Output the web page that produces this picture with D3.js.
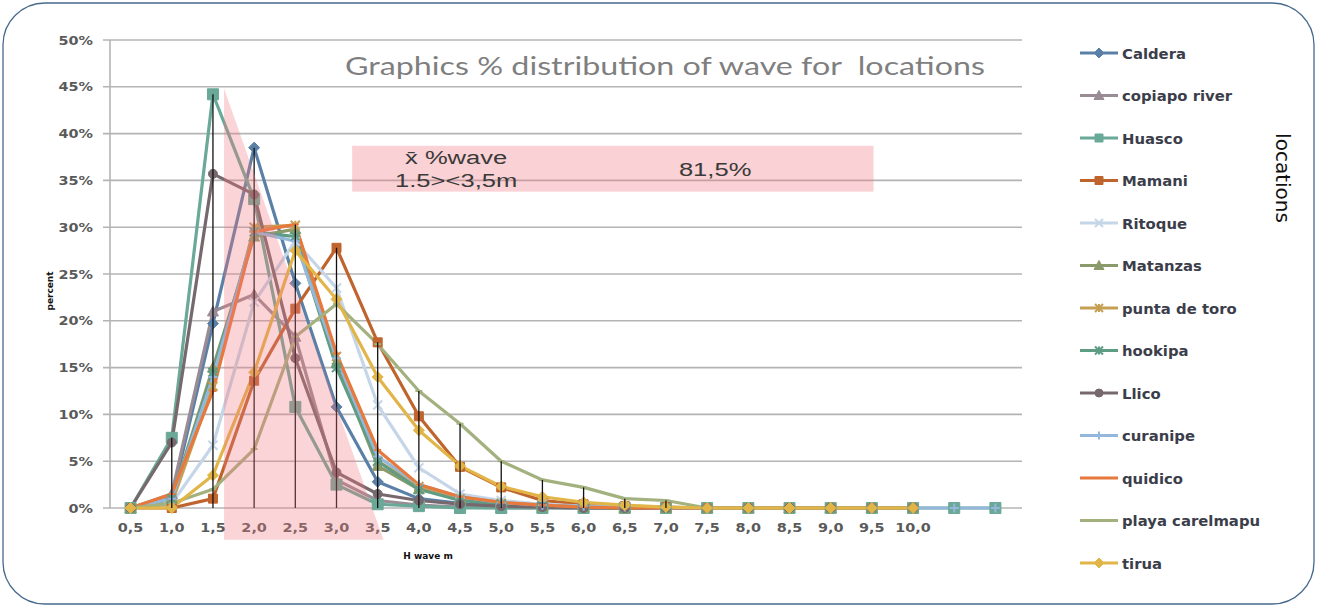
<!DOCTYPE html>
<html><head><meta charset="utf-8">
<script src="https://cdn.jsdelivr.net/npm/d3@7"></script>
<style>body{margin:0;background:#fff}svg{display:block}</style>
</head><body><svg id="c" width="1317" height="606"></svg>
<script>
// ---------- data ----------
const categories = ["0,5","1,0","1,5","2,0","2,5","3,0","3,5","4,0","4,5","5,0","5,5","6,0","6,5","7,0","7,5","8,0","8,5","9,0","9,5","10,0","",""];
const yTicks = [0,5,10,15,20,25,30,35,40,45,50];
const seriesNames = ["Caldera","copiapo river","Huasco","Mamani","Ritoque","Matanzas","punta de toro","hookipa","Llico","curanipe","quidico","playa carelmapu","tirua"];
const caldera        = [0,1,19.7,38.5,24,10.8,2.8,1,0.5,0.2,0.1,0,0,0,0,0,0,0,0,0];
const copiapoRiver   = [0,1.5,21,22.8,18.3,3,0.8,0.3,0.1,0,0,0,0,0,0,0,0,0,0,0];
const huasco         = [0,7.5,44.2,33,10.8,2.5,0.4,0.2,0,0,0,0,0,0,0,0,0,0,0,0,0,0];
const mamani         = [0,0,1,13.6,21.3,27.8,17.7,9.8,4.4,2.2,0.8,0.4,0.2,0.1,0,0,0,0,0,0];
const ritoque        = [0,0.5,6.7,22,28.5,23.5,11,4.3,1.5,0.8,0.4,0.2,0.1,0,0,0,0,0,0,0];
const matanzas       = [0,1,15,29,29.8,15.5,4.5,2,1,0.5,0.2,0.1,0,0,0,0,0,0,0,0];
const puntaDeToro    = [0,0.5,13,30,30.2,16.2,5,2.3,1,0.5,0.3,0.1,0,0,0,0,0,0,0,0];
const hookipa        = [0,1,14.5,29.5,29,15,5,2,0.8,0.4,0.2,0.1,0,0,0,0,0,0,0,0];
const llico          = [0,7,35.7,33.5,16,3.8,1.5,0.8,0.4,0.2,0.1,0,0,0,0,0,0,0,0,0];
const curanipe       = [0,1,14,29.5,28.5,16,5.5,2.5,1.2,0.6,0.3,0.2,0.1,0,0,0,0,0,0,0,0,0];
const quidico        = [0,1.5,12.5,29.5,30.3,16.5,6.2,2.5,1.2,0.6,0.3,0.1,0,0,0,0,0,0,0,0];
const playaCarelmapu = [0,0.5,2,6.3,18.3,21.8,17.5,12.5,9,5,3,2.2,1,0.8,0,0,0,0,0,0];
const tirua          = [0,0,3.5,14.5,27.5,22.3,14,8.3,4.5,2.3,1.2,0.6,0.3,0.1,0,0,0,0,0,0];
const seriesValues = [caldera,copiapoRiver,huasco,mamani,ritoque,matanzas,puntaDeToro,hookipa,llico,curanipe,quidico,playaCarelmapu,tirua];
const seriesColors = ["#5a80a8","#9a8c94","#6aa898","#c0642e","#c5d6e8","#8b9a6a","#c6a052","#5e9c84","#76686c","#94b8dc","#e8793c","#a3b17f","#e2b548"];
const seriesMarkers = ["diamond","triangle","square","square","x","triangle","star","asterisk","circle","plus","dash","dash","diamond"];
// annotation (in metres / percent)
const shadeTriangle = [[1.635,44.8],[1.635,-3.4],[3.57,-3.4]];
const shadeBox = {m0:3.19, m1:9.52, p0:33.8, p1:38.7};
const boxLines = ["x\u0304 %wave","1.5><3,5m"];
const boxValue = "81,5%";
const title = "Graphics % distribution of wave for  locations";

// ---------- layout ----------
const svg = d3.select("#c");
const L=110, R=1016, T=40, B=508;
const x = d3.scaleBand().domain(d3.range(categories.length)).range([L,R]).padding(0);
const cx = i => x(i) + x.bandwidth()/2;
const xm = m => cx(0) + (m-0.5)/0.5*x.bandwidth();   // metres -> px
const y = d3.scaleLinear().domain([0,50]).range([B,T]);

function stretch(sel, f){ sel.each(function(){ const w=this.getComputedTextLength(); d3.select(this).attr("textLength", w*f).attr("lengthAdjust","spacingAndGlyphs"); }); }

// border
svg.append("rect").attr("x",3).attr("y",3).attr("width",1311).attr("height",601).attr("rx",42).attr("ry",42)
  .attr("fill","none").attr("stroke","#46698c").attr("stroke-width",1.3);

// gridlines
svg.append("g").selectAll("line").data(yTicks).join("line")
  .attr("x1",L-7).attr("x2",1022).attr("y1",d=>y(d)).attr("y2",d=>y(d))
  .attr("stroke","#b4b4b4").attr("stroke-width",1.6);
svg.append("line").attr("x1",L).attr("x2",L).attr("y1",T).attr("y2",B).attr("stroke","#b4b4b4").attr("stroke-width",1.6);

// y labels
const yl = svg.append("g").selectAll("text").data(yTicks).join("text")
  .attr("x",93).attr("y",d=>y(d)+4.5).attr("text-anchor","end")
  .attr("font-family","DejaVu Sans").attr("font-size",12).attr("font-weight","bold").attr("fill","#5a5a5a")
  .text(d=>d+"%");
stretch(yl,1.2);
// x labels
const xl = svg.append("g").selectAll("text").data(categories).join("text")
  .attr("x",(d,i)=>cx(i)).attr("y",532).attr("text-anchor","middle")
  .attr("font-family","DejaVu Sans").attr("font-size",12).attr("font-weight","bold").attr("fill","#5a5a5a")
  .text(d=>d);
xl.filter(d=>d!=="").call(stretch,1.2);

// axis titles
svg.append("text").attr("transform",`translate(53,${291}) rotate(-90)`).attr("text-anchor","middle")
  .attr("font-family","DejaVu Sans").attr("font-size",9).attr("font-weight","bold").attr("fill","#111").text("percent");
svg.append("text").attr("x",428).attr("y",559).attr("text-anchor","middle")
  .attr("font-family","DejaVu Sans").attr("font-size",9).attr("font-weight","bold").attr("fill","#111").text("H wave m");

// title
const tt = svg.append("text").attr("x",665).attr("y",75).attr("text-anchor","middle")
  .attr("font-family","Lato").attr("font-size",25).attr("fill","#7f7f7f").style("white-space","pre").text(title);
stretch(tt,1.29);

// markers
function markerPath(type, s){
  const h=s/2;
  switch(type){
    case "diamond": return `M0,${-h-1}L${h+1},0L0,${h+1}L${-h-1},0Z`;
    case "triangle": return `M0,${-h-1}L${h+1},${h}L${-h-1},${h}Z`;
    case "square": return `M${-h},${-h}h${s}v${s}h${-s}Z`;
    case "circle": return `M${h},0A${h},${h} 0 1,1 ${-h},0A${h},${h} 0 1,1 ${h},0Z`;
    case "x": return `M${-h},${-h}L${h},${h}M${-h},${h}L${h},${-h}`;
    case "plus": return `M${-h},0H${h}M0,${-h}V${h}`;
    case "star": return `M${-h},${-h}L${h},${h}M${-h},${h}L${h},${-h}M0,${-h}V${h}`;
    case "asterisk": return `M${-h},${-h}L${h},${h}M${-h},${h}L${h},${-h}M0,${-h}V${h}M${-h},0H${h}`;
    case "dash": return `M${-h+1},0H${h-1}`;
    default: return "";
  }
}
const filled = t => ["diamond","triangle","square","circle"].includes(t);

// series
const line = d3.line().x((d,i)=>cx(i)).y(d=>y(d));
const sg = svg.append("g");
seriesValues.forEach((vals,k)=>{
  sg.append("path").datum(vals).attr("d",line).attr("fill","none")
    .attr("stroke",seriesColors[k]).attr("stroke-width",3.2).attr("stroke-linejoin","round");
});
seriesValues.forEach((vals,k)=>{
  const t=seriesMarkers[k];
  const sz = (t==="square" && k===2) ? 11 : 9;
  sg.append("g").selectAll("path").data(vals).join("path")
    .attr("transform",(d,i)=>`translate(${cx(i)},${y(d)})`)
    .attr("d",markerPath(t,sz))
    .attr("fill",filled(t)?seriesColors[k]:"none")
    .attr("stroke",seriesColors[k]).attr("stroke-width",filled(t)?1:2);
});

// drop lines (max of all series down to axis)
const nCat = d3.max(seriesValues, v=>v.length);
const maxes = d3.range(nCat).map(i=>d3.max(seriesValues, v=> v[i]===undefined? -1 : v[i]));
svg.append("g").selectAll("line").data(maxes.map((m,i)=>({m,i})).filter(d=>d.m>0)).join("line")
  .attr("x1",d=>cx(d.i)).attr("x2",d=>cx(d.i)).attr("y1",d=>y(d.m)).attr("y2",y(0))
  .attr("stroke","#111").attr("stroke-width",1.3);

// shaded annotations (semi-transparent overlay)
svg.append("path").attr("d", d3.line()(shadeTriangle.map(p=>[xm(p[0]),y(p[1])]))+"Z")
  .attr("fill","#f07880").attr("fill-opacity",0.32);
svg.append("rect").attr("x",xm(shadeBox.m0)).attr("y",y(shadeBox.p1))
  .attr("width",xm(shadeBox.m1)-xm(shadeBox.m0)).attr("height",y(shadeBox.p0)-y(shadeBox.p1))
  .attr("fill","#f07880").attr("fill-opacity",0.34);
const bx = xm(shadeBox.m0), by = y(shadeBox.p1);
const bt = svg.append("g").attr("font-family","Liberation Sans Narrow, Liberation Sans").attr("font-size",18).attr("fill","#3a3a3a");
bt.append("text").attr("x",bx+104).attr("y",by+18).attr("text-anchor","middle").text(boxLines[0]);
bt.append("text").attr("x",bx+104).attr("y",by+41).attr("text-anchor","middle").text(boxLines[1]);
bt.append("text").attr("x",bx+363).attr("y",by+30).attr("text-anchor","middle").text(boxValue);
stretch(bt.selectAll("text"),1.42);

// legend
const lg = svg.append("g").attr("transform","translate(1080,53)");
seriesNames.forEach((n,k)=>{
  const g = lg.append("g").attr("transform",`translate(0,${k*42.5})`);
  g.append("line").attr("x1",0).attr("x2",38).attr("stroke",seriesColors[k]).attr("stroke-width",3);
  const t=seriesMarkers[k];
  if(t!=="dash") g.append("path").attr("transform","translate(19,0)").attr("d",markerPath(t,8))
    .attr("fill",filled(t)?seriesColors[k]:"none").attr("stroke",seriesColors[k]).attr("stroke-width",filled(t)?1:2);
  const tx = g.append("text").attr("x",42).attr("y",5.5).attr("font-family","DejaVu Sans").attr("font-size",14)
    .attr("font-weight","bold").attr("fill","#3b3e4a").text(n);
  stretch(tx,1.06);
});
svg.append("text").attr("transform","translate(1276,178) rotate(90)").attr("text-anchor","middle")
  .attr("font-family","DejaVu Sans").attr("font-size",20).attr("fill","#111").text("locations");
</script></body></html>
